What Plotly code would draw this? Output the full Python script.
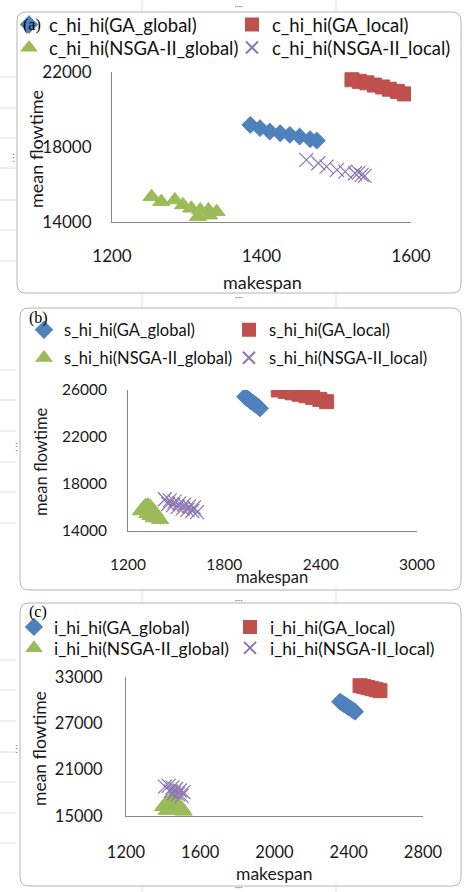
import plotly.graph_objects as go

W, H = 464, 892

def fx(px):
    return px / W

def fy(py):
    return 1 - py / H

# ---------------- data ----------------
series_names = ["GA_global", "GA_local", "NSGA-II_global", "NSGA-II_local"]
panel_prefix = ["c_hi_hi", "s_hi_hi", "i_hi_hi"]

# (a) c_hi_hi
a_ga_global_x = [1385, 1398, 1411, 1425, 1438, 1451, 1465, 1474]
a_ga_global_y = [19177, 19000, 18818, 18730, 18640, 18550, 18410, 18335]
a_ga_local_x = [1521, 1531, 1541, 1551, 1562, 1571, 1582, 1591]
a_ga_local_y = [21586, 21500, 21420, 21300, 21200, 21080, 20960, 20830]
a_nsga_global_x = [1253, 1266, 1284, 1295, 1306, 1318, 1329, 1340, 1315, 1330]
a_nsga_global_y = [15338, 15070, 15160, 14894, 14717, 14626, 14626, 14535, 14270, 14350]
a_nsga_local_x = [1460, 1476, 1487, 1501, 1512, 1525, 1534, 1538, 1530]
a_nsga_local_y = [17303, 17125, 16944, 16767, 16677, 16588, 16500, 16450, 16620]

# (b) s_hi_hi
b_ga_global_x = [1929, 1942, 1955, 1968, 1982, 1996, 2010, 2022]
b_ga_global_y = [25430, 25290, 25150, 25010, 24870, 24730, 24590, 24443]
b_ga_local_x = [2136, 2180, 2222, 2265, 2308, 2350, 2395, 2437]
b_ga_local_y = [26000, 25880, 25760, 25640, 25510, 25370, 25200, 25004]
b_nsga_global_x = [1280, 1295, 1310, 1325, 1340, 1355, 1370, 1380, 1390, 1400, 1360, 1340, 1320]
b_nsga_global_y = [15700, 15950, 16150, 16200, 16050, 15800, 15550, 15300, 15100, 14950, 15100, 15300, 15450]
b_nsga_local_x = [1430, 1460, 1490, 1520, 1550, 1580, 1610, 1450, 1480, 1510, 1540, 1570, 1600, 1630]
b_nsga_local_y = [16700, 16600, 16500, 16350, 16250, 16100, 16000, 16300, 16200, 16050, 15900, 15800, 15700, 15600]

# (c) i_hi_hi
c_ga_global_x = [2353, 2365, 2377, 2389, 2400, 2412, 2423, 2434]
c_ga_global_y = [29802, 29620, 29430, 29250, 29060, 28880, 28690, 28507]
c_ga_local_x = [2461, 2482, 2504, 2525, 2547, 2568]
c_ga_local_y = [31874, 31750, 31620, 31490, 31360, 31227]
c_nsga_global_x = [1400, 1420, 1440, 1460, 1480, 1500, 1510, 1450, 1420]
c_nsga_global_y = [16200, 16700, 17000, 16900, 16500, 16000, 15600, 15800, 15700]
c_nsga_local_x = [1410, 1430, 1450, 1470, 1490, 1510, 1440, 1460, 1480, 1500]
c_nsga_local_y = [18800, 18900, 18700, 18500, 18300, 18100, 18200, 18000, 17800, 17600]

a_xticks = [1200, 1400, 1600]
a_yticks = [14000, 18000, 22000]
b_xticks = [1200, 1800, 2400, 3000]
b_yticks = [14000, 18000, 22000, 26000]
c_xticks = [1200, 1600, 2000, 2400, 2800]
c_yticks = [15000, 21000, 27000, 33000]

panel_data = [
    [(a_ga_global_x, a_ga_global_y), (a_ga_local_x, a_ga_local_y),
     (a_nsga_global_x, a_nsga_global_y), (a_nsga_local_x, a_nsga_local_y)],
    [(b_ga_global_x, b_ga_global_y), (b_ga_local_x, b_ga_local_y),
     (b_nsga_global_x, b_nsga_global_y), (b_nsga_local_x, b_nsga_local_y)],
    [(c_ga_global_x, c_ga_global_y), (c_ga_local_x, c_ga_local_y),
     (c_nsga_global_x, c_nsga_global_y), (c_nsga_local_x, c_nsga_local_y)],
]
panel_ticks = [(a_xticks, a_yticks), (b_xticks, b_yticks), (c_xticks, c_yticks)]

# ---------------- styles ----------------
FONT = "Lato"
TXT = "#1a1a1a"
styles = [
    dict(symbol="diamond", color="#4F81BD", size=13, line=dict(width=1, color="#4F81BD")),
    dict(symbol="square", color="#C0504D", size=14, line=dict(width=1, color="#C0504D")),
    dict(symbol="triangle-up", color="#9BBB59", size=15, line=dict(width=1, color="#9BBB59")),
    dict(symbol="x-thin-open", color="#8C76B3", size=14, line=dict(width=1.2, color="#8C76B3")),
]

# pixel geometry of each panel
geo = [
    dict(x0=112, x1=411, ytop=72, ybot=221.7, frame=(17, 12, 461, 293),
         legx=9, rows=(25, 48), ytitle=(36, 149), xtitle=(262, 282), lab=("(a)", 32, 25),
         fs_leg=18.5, fs_tick=17, fs_title=18, ew=178, xstand=19, ystand=16),
    dict(x0=128, x1=417, ytop=390, ybot=531, frame=(20, 308, 461, 590),
         legx=24, rows=(330, 358), ytitle=(41, 462), xtitle=(272, 577), lab=("(b)", 38, 318),
         fs_leg=16.5, fs_tick=15.5, fs_title=16.5, ew=160, xstand=19, ystand=17),
    dict(x0=126, x1=423, ytop=677, ybot=816, frame=(20, 603, 461, 886),
         legx=14, rows=(627, 648), ytitle=(39, 749), xtitle=(274, 873), lab=("(c)", 38, 612),
         fs_leg=17.5, fs_tick=16.5, fs_title=17.5, ew=171, xstand=21, ystand=19),
]
xranges = [[1200, 1600], [1200, 3000], [1200, 2800]]
yranges = [[14000, 22000], [14000, 26000], [15000, 33000]]

fig = go.Figure()
layout = dict(
    width=W, height=H, margin=dict(l=0, r=0, t=0, b=0, autoexpand=False),
    paper_bgcolor="white", plot_bgcolor="rgba(0,0,0,0)",
    font=dict(family=FONT, color=TXT),
    showlegend=True,
)

shapes = []
annotations = []

# spreadsheet grid lines behind charts
for gx in [142, 336]:
    shapes.append(dict(type="line", xref="paper", yref="paper", x0=fx(gx), x1=fx(gx), y0=0, y1=1,
                       line=dict(color="#dde1e6", width=1), layer="below"))
for gy in [77, 108, 138, 168, 200, 230, 261, 370, 400, 431, 462, 492, 523, 660, 690, 721, 752, 782, 813, 843]:
    shapes.append(dict(type="line", xref="paper", yref="paper", x0=0, x1=fx(16), y0=fy(gy), y1=fy(gy),
                       line=dict(color="#dde1e6", width=1), layer="below"))


def rounded(x0, y0, x1, y1, r=9):
    p = [
        f"M {fx(x0 + r)} {fy(y0)}",
        f"L {fx(x1 - r)} {fy(y0)}",
        f"Q {fx(x1)} {fy(y0)} {fx(x1)} {fy(y0 + r)}",
        f"L {fx(x1)} {fy(y1 - r)}",
        f"Q {fx(x1)} {fy(y1)} {fx(x1 - r)} {fy(y1)}",
        f"L {fx(x0 + r)} {fy(y1)}",
        f"Q {fx(x0)} {fy(y1)} {fx(x0)} {fy(y1 - r)}",
        f"L {fx(x0)} {fy(y0 + r)}",
        f"Q {fx(x0)} {fy(y0)} {fx(x0 + r)} {fy(y0)} Z",
    ]
    return " ".join(p)


leg_counter = 0
for i in range(3):
    g = geo[i]
    sfx = "" if i == 0 else str(i + 1)
    xa, ya = "x" + sfx, "y" + sfx
    fx0, fy0, fx1, fy1 = g["frame"]
    shapes.append(dict(type="path", xref="paper", yref="paper", path=rounded(fx0, fy0, fx1, fy1),
                       fillcolor="white", line=dict(color="#b4b4b4", width=1), layer="below"))
    # one legend per legend row (two entries each)
    row_legs = []
    for r in range(2):
        leg_counter += 1
        legname = "legend" if leg_counter == 1 else f"legend{leg_counter}"
        row_legs.append(legname)
        layout[legname] = dict(
            x=fx(g["legx"]), y=fy(g["rows"][r]), xanchor="left", yanchor="middle", orientation="h",
            entrywidth=g["ew"], entrywidthmode="pixels",
            bgcolor="rgba(0,0,0,0)", font=dict(size=g["fs_leg"], family=FONT, color="#111"),
            itemsizing="constant",
        )
    for k in range(4):
        xs, ys = panel_data[i][k]
        st = styles[k]
        fig.add_trace(go.Scatter(
            x=xs, y=ys, mode="markers", xaxis=xa, yaxis=ya, legend=row_legs[k // 2],
            name=f"{panel_prefix[i]}({series_names[k]})",
            marker=dict(symbol=st["symbol"], color=st["color"], size=st["size"], line=st["line"]),
        ))
    xt, yt = panel_ticks[i]
    layout["xaxis" + sfx] = dict(
        domain=[fx(g["x0"]), fx(g["x1"])], range=xranges[i], anchor=ya,
        tickvals=xt, ticktext=[str(v) for v in xt], showgrid=False, zeroline=False,
        showline=True, linecolor="#868686", linewidth=1, ticks="",
        ticklabelstandoff=g["xstand"], tickfont=dict(size=g["fs_tick"], family=FONT, color=TXT),
    )
    layout["yaxis" + sfx] = dict(
        domain=[fy(g["ybot"]), fy(g["ytop"])], range=yranges[i], anchor=xa,
        tickvals=yt, ticktext=[str(v) for v in yt], showgrid=False, zeroline=False,
        showline=True, linecolor="#868686", linewidth=1, ticks="",
        ticklabelstandoff=g["ystand"], tickfont=dict(size=g["fs_tick"], family=FONT, color=TXT),
    )
    tx, ty = g["ytitle"]
    annotations.append(dict(text="mean flowtime", x=fx(tx), y=fy(ty), xref="paper", yref="paper",
                            xanchor="center", yanchor="middle", showarrow=False, textangle=-90,
                            font=dict(size=g["fs_title"], family=FONT, color=TXT)))
    tx, ty = g["xtitle"]
    annotations.append(dict(text="makespan", x=fx(tx), y=fy(ty), xref="paper", yref="paper",
                            xanchor="center", yanchor="middle", showarrow=False,
                            font=dict(size=g["fs_title"], family=FONT, color=TXT)))
    lab, lx2, ly2 = g["lab"]
    annotations.append(dict(text=lab, x=fx(lx2), y=fy(ly2), xref="paper", yref="paper",
                            xanchor="center", yanchor="middle", showarrow=False,
                            font=dict(size=16, family="Liberation Serif", color="#000")))

# sizing handles of the chart frames
for hx, hy in [(238, 6), (238, 297), (238, 600), (238, 887)]:
    annotations.append(dict(text="····", x=fx(hx), y=fy(hy), xref="paper", yref="paper",
                            xanchor="center", yanchor="middle",
                            showarrow=False, font=dict(size=7, color="#666")))
for hx, hy in [(13, 158), (16, 447), (16, 748)]:
    annotations.append(dict(text="⋮", x=fx(hx), y=fy(hy), xref="paper", yref="paper",
                            xanchor="center", yanchor="middle",
                            showarrow=False, font=dict(size=11, color="#777")))

layout["shapes"] = shapes
layout["annotations"] = annotations
fig.update_layout(**layout)
fig.write_html("out.html", config={"displayModeBar": False},
               post_script="document.body.style.margin='0px';document.body.style.overflow='hidden';")
